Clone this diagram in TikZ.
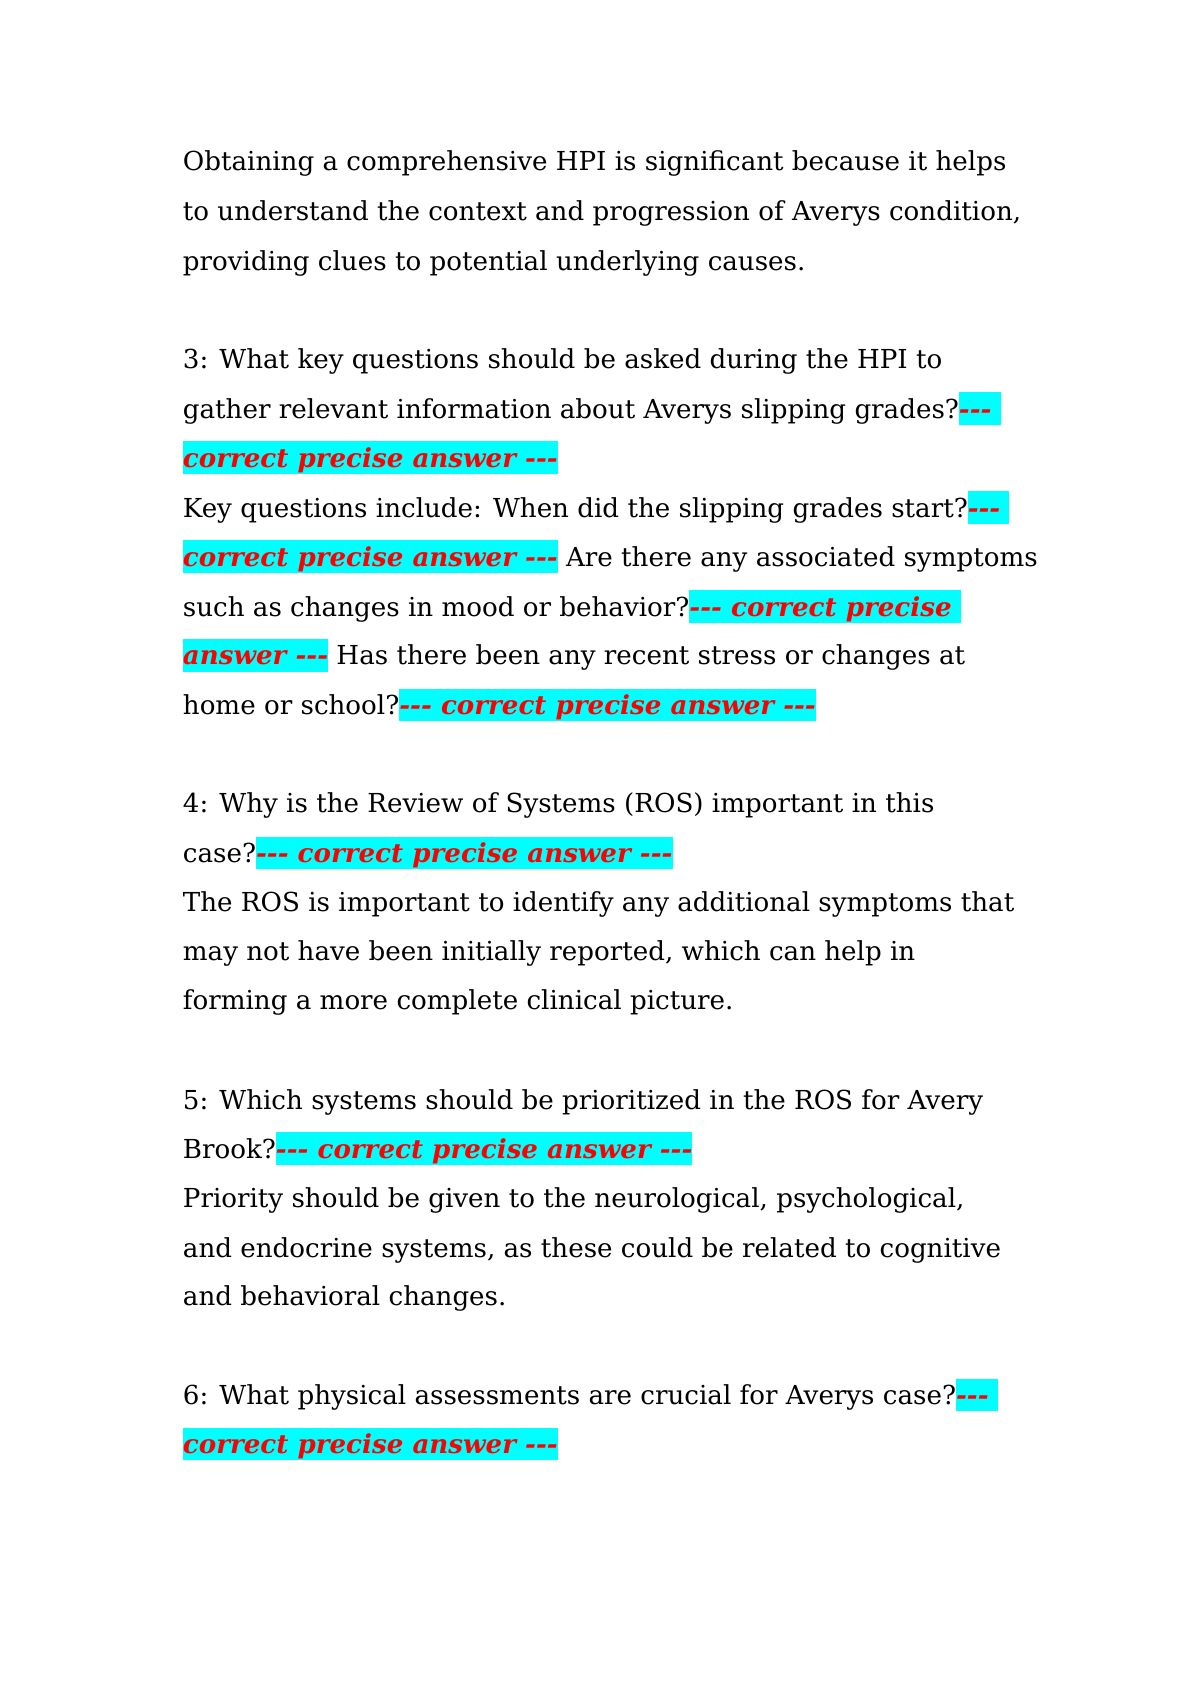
\documentclass[tikz,border=0pt]{standalone}
\usepackage{fontspec}
\setmainfont{DejaVu Serif}
\definecolor{hlcyan}{RGB}{0,255,255}
\definecolor{hlred}{RGB}{255,0,0}
\newcommand{\dsh}{\hbox{-}\hbox{-}\hbox{-}}
\newcommand{\hl}[1]{{\setlength{\fboxsep}{0pt}\colorbox{hlcyan}{\rule[-3.3pt]{0pt}{16.3pt}\color{hlred}\bfseries\itshape #1}}}
\tikzset{%
  line/.style = {anchor=base west, inner sep=0pt, font=\fontsize{13.1}{15}\selectfont}%
}
\begin{document}
\begin{tikzpicture}[x=0.01914cm,y=-0.01914cm]
  \useasboundingbox (0,0) rectangle (1097,1550);
  \node[line] (l1)  at (168,157)  {Obtaining a comprehensive HPI is significant because it helps};
  \node[line] (l2)  at (168,203)  {to understand the context and progression of Averys condition,};
  \node[line] (l3)  at (168,249)  {providing clues to potential underlying causes.};
  \node[line] (l4)  at (168,339)  {3: What key questions should be asked during the HPI to};
  \node[line] (l5)  at (168,385)  {gather relevant information about Averys slipping grades?\hl{\dsh\ }};
  \node[line] (l6)  at (168,430)  {\hl{correct precise answer \dsh}};
  \node[line] (l7)  at (168,476)  {Key questions include: When did the slipping grades start?\hl{\dsh\ }};
  \node[line] (l8)  at (168,521)  {\hl{correct precise answer \dsh} Are there any associated symptoms};
  \node[line] (l9)  at (168,567)  {such as changes in mood or behavior?\hl{\dsh\ correct precise\ }};
  \node[line] (l10) at (168,612)  {\hl{answer \dsh} Has there been any recent stress or changes at};
  \node[line] (l11) at (168,658)  {home or school?\hl{\dsh\ correct precise answer \dsh}};
  \node[line] (l12) at (168,748)  {4: Why is the Review of Systems (ROS) important in this};
  \node[line] (l13) at (168,794)  {case?\hl{\dsh\ correct precise answer \dsh}};
  \node[line] (l14) at (168,839)  {The ROS is important to identify any additional symptoms that};
  \node[line] (l15) at (168,884)  {may not have been initially reported, which can help in};
  \node[line] (l16) at (168,929)  {forming a more complete clinical picture.};
  \node[line] (l17) at (168,1021) {5: Which systems should be prioritized in the ROS for Avery};
  \node[line] (l18) at (168,1066) {Brook?\hl{\dsh\ correct precise answer \dsh}};
  \node[line] (l19) at (168,1111) {Priority should be given to the neurological, psychological,};
  \node[line] (l20) at (168,1157) {and endocrine systems, as these could be related to cognitive};
  \node[line] (l21) at (168,1202) {and behavioral changes.};
  \node[line] (l22) at (168,1293) {6: What physical assessments are crucial for Averys case?\hl{\dsh\ }};
  \node[line] (l23) at (168,1338) {\hl{correct precise answer \dsh}};
\end{tikzpicture}
\end{document}
